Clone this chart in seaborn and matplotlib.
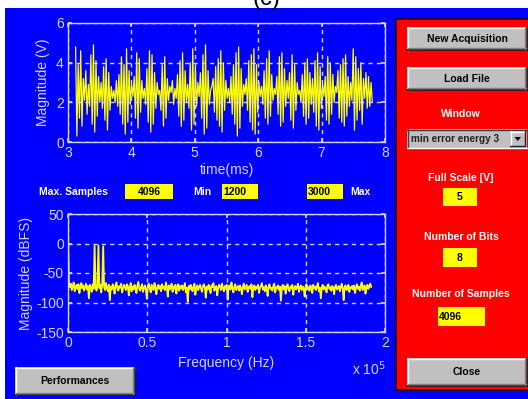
import numpy as np
import pandas as pd
import matplotlib
matplotlib.use("Agg")
import matplotlib.pyplot as plt
from matplotlib.patches import Rectangle, Polygon
from matplotlib.lines import Line2D
import seaborn as sns

# ---------------- data ----------------
# acquired waveform (V), samples 1200..3000 shown in ms
t_start_ms = 3.12
t_end_ms = 7.80
signal_v = [
    4.8, 0.3, 3.9, 1.2, 4.6, 0.8, 3.2, 2.1, 3.6, 1.4,
    2.9, 1.8, 4.4, 0.9, 4.9, 0.5, 4.1, 1.3, 3.3, 2.0,
    3.0, 1.7, 3.8, 1.1, 4.2, 0.6, 3.5, 1.6, 2.8, 2.2,
    2.6, 2.0, 3.1, 1.8, 3.4, 1.4, 4.3, 0.9, 3.9, 0.4,
    4.7, 1.0, 3.6, 1.9, 2.9, 2.3, 3.3, 1.2, 4.5, 0.7,
    4.2, 1.5, 3.1, 2.2, 2.7, 1.9, 3.7, 1.0, 4.6, 0.5,
    4.4, 0.9, 3.5, 1.7, 3.0, 2.4, 2.6, 1.6, 3.9, 0.8,
    4.3, 1.2, 3.2, 2.1, 2.8, 2.5, 3.1, 1.9, 2.7, 2.2,
    3.4, 1.3, 4.1, 0.8, 4.5, 1.1, 3.6, 2.0, 2.9, 1.7,
    4.0, 0.6, 4.7, 0.9, 3.8, 1.8, 3.0, 2.3, 3.5, 1.2,
    4.4, 0.4, 4.9, 0.7, 3.6, 1.9, 2.6, 2.8, 3.2, 1.5,
    3.8, 1.1, 4.2, 0.8, 4.6, 0.5, 4.0, 1.6, 3.1, 2.2,
    2.7, 2.0, 3.3, 1.4, 3.9, 0.9, 4.5, 0.3, 4.8, 0.7,
    3.7, 1.8, 2.9, 2.4, 3.2, 1.6, 4.1, 1.0, 4.4, 0.6,
    4.7, 0.4, 3.9, 1.5, 3.0, 2.3, 2.8, 1.9, 3.6, 1.2,
    4.2, 0.9, 4.6, 1.3, 3.4, 2.1, 2.7, 2.4, 3.3, 1.4,
    4.3, 0.8, 4.5, 1.0, 3.7, 1.8, 3.1, 2.2, 3.5, 1.1,
    4.4, 0.7, 3.9, 1.6, 3.0, 2.4, 2.6, 2.0, 3.4, 1.3,
    4.0, 0.9, 4.2, 1.2, 3.5, 1.9, 3.2, 1.5, 4.1, 0.8,
    4.5, 0.6, 3.8, 1.7, 2.9, 2.3, 3.3, 1.1, 4.3, 0.9,
    4.0, 1.4, 3.4, 2.0, 2.8, 2.5, 3.6, 1.2, 3.9, 1.0,
    4.2, 0.8, 4.4, 1.3, 3.3, 1.8, 3.0, 2.1, 4.7, 0.6,
    4.3, 1.1, 3.7, 1.6, 4.0, 0.9, 3.2, 2.2, 3.5, 1.7,
    3.3, 1.8, 3.0, 2.0,
]

# magnitude spectrum (dBFS) from DC up to the last bin
f_max_hz = 1.913e5
spectrum_db = [
    12, -70, -74, -68, -79, -72, -66, -81, -75, -70, -77, -69, -84, -73, -67, -76, -71, -80, -74, -68,
    -78, -72, -93, -70, -75, -82, -69, -77, -4, -73, -80, -71, -3, -76, -70, -83, -68, -5, -74, -79,
    -67, -75, -81, -70, -96, -73, -78, -69, -74, -85, -71, -66, -77, -80, -72, -75, -68, -83, -76, -70,
    -74, -79, -69, -72, -88, -75, -67, -81, -73, -78, -70, -76, -84, -71, -65, -77, -80, -73, -69, -82,
    -75, -71, -78, -94, -72, -68, -76, -83, -70, -74, -79, -67, -73, -86, -75, -70, -77, -72, -81, -69,
    -76, -73, -79, -66, -74, -90, -71, -78, -75, -68, -82, -73, -77, -70, -85, -74, -69, -80, -72, -76,
    -71, -79, -74, -67, -83, -75, -99, -72, -78, -70, -76, -81, -73, -68, -87, -75, -71, -79, -74, -70,
    -77, -82, -72, -69, -75, -92, -73, -78, -70, -76, -84, -71, -74, -67, -80, -75, -72, -88, -76, -70,
    -73, -79, -68, -75, -81, -72, -77, -70, -95, -74, -71, -78, -66, -76, -83, -73, -69, -79, -75, -72,
    -80, -71, -76, -86, -73, -68, -78, -74, -70, -82, -75, -72, -77, -69, -91, -74, -71, -79, -73, -76,
    -70, -84, -75, -72, -67, -78, -74, -81, -71, -76, -89, -73, -69, -77, -75, -80, -72, -68, -83, -74,
    -76, -71, -79, -73, -97, -75, -70, -78, -72, -85, -74, -69, -77, -81, -73, -76, -70, -87, -75, -72,
    -78, -74, -68, -82, -75, -71, -79, -73, -76, -90, -72, -69, -77, -74, -80, -71, -75, -84, -70, -76,
    -73, -79, -72, -67, -81, -75, -93, -74, -70, -78, -73, -76, -83, -71, -69, -77, -74, -80, -72, -75,
    -86, -73, -70, -78, -75, -72, -81, -74, -68, -77, -96, -73, -71, -79, -75, -70, -82, -74, -76, -72,
    -78, -71, -84, -75, -69, -77, -73, -80, -72, -66, -79, -74, -71, -85, -75, -70, -77, -73, -68, -74,
]

time_ticks = [3, 4, 5, 6, 7, 8]
volt_ticks = [0, 2, 4, 6]
freq_ticks = [0, 0.5e5, 1.0e5, 1.5e5, 2.0e5]
freq_tick_labels = ["0", "0.5", "1", "1.5", "2"]
db_ticks = [-150, -100, -50, 0, 50]

# panel fields
max_samples = "4096"
min_sample = "1200"
max_sample = "3000"
window_name = "min error energy 3"
full_scale = "5"
n_bits = "8"
n_samples = "4096"

# ---------------- styling ----------------
sns.set_theme(style="ticks")
plt.rcParams["font.family"] = ["Liberation Sans", "DejaVu Sans"]
plt.rcParams["axes.unicode_minus"] = False

W, H = 528, 399
BLUE = "#0000ff"
LAV = "#d4d4ff"
YEL = "#ffff00"
RED = "#ff0000"
GRAY = "#c0c0c0"

fig = plt.figure(figsize=(W / 100, H / 100), dpi=100, facecolor="white")


def fx(x):
    return x / W


def fy(y):
    return 1 - y / H


def rect(x0, y0, x1, y1, z=1, **kw):
    r = Rectangle((fx(x0), fy(y1)), fx(x1) - fx(x0), fy(y0) - fy(y1),
                  transform=fig.transFigure, zorder=z, **kw)
    fig.add_artist(r)
    return r


def line(xs, ys, color, lw=1.0, z=3):
    fig.add_artist(Line2D([fx(v) for v in xs], [fy(v) for v in ys],
                          transform=fig.transFigure, color=color, lw=lw, zorder=z))


def button(x0, y0, x1, y1, label, size=7.5):
    rect(x0, y0, x1, y1, z=2, facecolor=GRAY, edgecolor="none")
    line([x0, x1], [y0 + 0.5, y0 + 0.5], "white")
    line([x0 + 0.5, x0 + 0.5], [y0, y1], "white")
    line([x0, x1], [y1 - 0.5, y1 - 0.5], "#202020", lw=1.2)
    line([x1 - 0.5, x1 - 0.5], [y0, y1], "#202020", lw=1.2)
    line([x0 + 1, x1 - 1], [y1 - 1.7, y1 - 1.7], "#808080")
    line([x1 - 1.7, x1 - 1.7], [y0 + 1, y1 - 1], "#808080")
    fig.text(fx((x0 + x1) / 2), fy((y0 + y1) / 2), label, ha="center", va="center",
             fontsize=size, fontweight="bold", color="black", zorder=4)


def field(x0, y0, x1, y1, text, align="center"):
    rect(x0, y0, x1, y1, z=2, facecolor=YEL, edgecolor="none")
    if align == "center":
        fig.text(fx((x0 + x1) / 2), fy((y0 + y1) / 2 + 0.5), text, ha="center", va="center",
                 fontsize=7.5, fontweight="bold", color="black", zorder=4)
    else:
        fig.text(fx(x0 + 1), fy((y0 + y1) / 2 + 0.5), text, ha="left", va="center",
                 fontsize=7.5, fontweight="bold", color="black", zorder=4)


# window background
rect(5, 8, W, H, z=-10, facecolor=BLUE, edgecolor="none")
fig.text(fx(266), fy(5), "(c)", ha="center", va="baseline", fontsize=17, color="black")


def style_axes(ax):
    ax.set_facecolor(BLUE)
    for s in ax.spines.values():
        s.set_color(LAV)
        s.set_linewidth(1.0)
    ax.grid(True, color=LAV, linestyle=(0, (3, 3)), linewidth=1.0)
    ax.tick_params(colors=LAV, labelcolor=LAV, direction="in", length=3,
                   labelsize=10, pad=3, top=True, right=True)
    ax.set_axisbelow(False)


# ---------------- time-domain plot ----------------
ax1 = fig.add_axes([fx(68), fy(142), fx(385) - fx(68), fy(23) - fy(142)])
t_ms = np.linspace(t_start_ms, t_end_ms, len(signal_v))
df_t = pd.DataFrame({"t": t_ms, "v": signal_v})
sns.lineplot(data=df_t, x="t", y="v", ax=ax1, color=YEL, linewidth=0.9,
             estimator=None, sort=False)
ax1.set_xlim(3, 8)
ax1.set_ylim(0, 6)
ax1.set_xticks(time_ticks)
ax1.set_yticks(volt_ticks)
style_axes(ax1)
ax1.set_xlabel("time(ms)", color=LAV, fontsize=10, labelpad=2)
ax1.set_ylabel("Magnitude (V)", color=LAV, fontsize=10, labelpad=4)

# ---------------- spectrum plot ----------------
ax2 = fig.add_axes([fx(68), fy(332), fx(385) - fx(68), fy(214) - fy(332)])
f_hz = np.linspace(0, f_max_hz, len(spectrum_db))
df_f = pd.DataFrame({"f": f_hz, "db": spectrum_db})
sns.lineplot(data=df_f, x="f", y="db", ax=ax2, color=YEL, linewidth=1.3,
             estimator=None, sort=False)
ax2.set_xlim(0, 2e5)
ax2.set_ylim(-150, 50)
ax2.set_xticks(freq_ticks)
ax2.set_xticklabels(freq_tick_labels)
ax2.set_yticks(db_ticks)
style_axes(ax2)
ax2.set_xlabel("Frequency (Hz)", color=LAV, fontsize=10, labelpad=4)
ax2.set_ylabel("Magnitude (dBFS)", color=LAV, fontsize=10, labelpad=2)
fig.text(fx(352), fy(369), r"x 10$^{5}$", ha="left", va="center", fontsize=10, color=LAV)

# ---------------- sample range row ----------------
fig.text(fx(39), fy(192), "Max. Samples", ha="left", va="center", fontsize=7.5,
         fontweight="bold", color="white")
field(125, 184, 173, 199, max_samples)
fig.text(fx(193), fy(192), "Min", ha="left", va="center", fontsize=7.5,
         fontweight="bold", color="white")
field(222, 184, 258, 199, min_sample, align="left")
field(307, 184, 343, 199, max_sample, align="left")
fig.text(fx(350), fy(192), "Max", ha="left", va="center", fontsize=7.5,
         fontweight="bold", color="white")

button(15, 367, 135, 395, "Performances")

# ---------------- control panel ----------------
rect(396, 19, W + 2, 390, z=1, facecolor=RED, edgecolor="#200000", linewidth=1.2)
button(407, 27, 527, 50, "New Acquisition")
button(407, 67, 527, 90, "Load File")
fig.text(fx(461), fy(114), "Window", ha="center", va="center", fontsize=7.5,
         fontweight="bold", color="white")

# drop-down list
rect(407, 129, 527, 148, z=2, facecolor=GRAY, edgecolor="none")
line([407, 527], [129.5, 129.5], "#404040")
line([407.5, 407.5], [129, 148], "#404040")
line([407, 527], [147.5, 147.5], "white")
fig.text(fx(411), fy(139), window_name, ha="left", va="center", fontsize=7.2,
         fontweight="bold", color="#202020", zorder=4)
rect(510, 131, 525, 146, z=3, facecolor=GRAY, edgecolor="none")
line([510, 525], [131.5, 131.5], "white", z=4)
line([510.5, 510.5], [131, 146], "white", z=4)
line([510, 525], [145.5, 145.5], "#202020", z=4)
line([524.5, 524.5], [131, 146], "#202020", z=4)
fig.add_artist(Polygon([[fx(514.5), fy(137)], [fx(521), fy(137)], [fx(517.75), fy(141)]],
                       closed=True, transform=fig.transFigure, facecolor="black",
                       edgecolor="none", zorder=5))

fig.text(fx(461), fy(178), "Full Scale [V]", ha="center", va="center", fontsize=7.5,
         fontweight="bold", color="white")
field(443, 188, 477, 206, full_scale)
fig.text(fx(461), fy(237), "Number of Bits", ha="center", va="center", fontsize=7.5,
         fontweight="bold", color="white")
field(443, 248, 477, 267, n_bits)
fig.text(fx(461), fy(294), "Number of Samples", ha="center", va="center", fontsize=7.5,
         fontweight="bold", color="white")
field(438, 307, 485, 326, n_samples, align="left")
button(407, 358, 527, 386, "Close")

fig.savefig("out.png", dpi=100, facecolor="white")
